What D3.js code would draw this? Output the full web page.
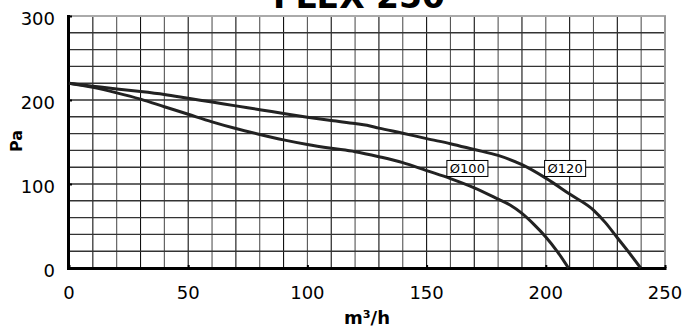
<!DOCTYPE html>
<html><head><meta charset="utf-8">
<script src="https://cdn.jsdelivr.net/npm/d3@7"></script>
<style>body{margin:0;background:#fff}svg{display:block}</style>
</head><body>
<svg id="c" width="682" height="328"></svg>
<script>
const title = "FLEX 250";
const xLabel = "m³/h";
const yLabel = "Pa";
const xTicks = [0, 50, 100, 150, 200, 250];
const yTicks = [0, 100, 200, 300];
const seriesNames = ["Ø100", "Ø120"];
const d100 = [[0,220],[10,215],[20,208.5],[30,201],[40,192],[50,183],[60,174],[70,166],[80,159],[90,152.5],[100,147],[110,142.5],[120,138.5],[130,132.5],[140,125.5],[150,116],[160,106.5],[170,95.5],[180,82],[185,75],[190,65],[195,52],[200,37],[205,19],[209.5,0]];
const d120 = [[0,220],[10,216.5],[20,213],[30,210],[40,206.5],[50,202],[60,197.5],[70,193],[80,188.5],[90,184],[100,179.5],[110,175.5],[120,172],[125,170],[130,166.5],[140,160.5],[150,154],[160,148],[170,141],[180,134],[190,123],[200,107],[210,88],[220,69],[225,54],[230,36],[235,18],[239.8,0]];
const labelAnchors = [[158.5,128],[199.5,128]];

const svg = d3.select("#c");
const m = {l:69, r:665, t:16, b:268};
const x = d3.scaleLinear().domain([0,250]).range([m.l, m.r]);
const y = d3.scaleLinear().domain([0,300]).range([m.b, m.t]);

// grid
const g = svg.append("g");
g.selectAll(".vx").data(d3.range(10, 250, 10)).join("line")
  .attr("x1", d=>x(d)).attr("x2", d=>x(d)).attr("y1", y(0)).attr("y2", y(300))
  .attr("stroke", (d,i)=> i%2 ? "#555" : "#111").attr("stroke-width", 1.1);
g.selectAll(".hy").data(d3.range(20, 300, 20)).join("line")
  .attr("y1", d=>y(d)).attr("y2", d=>y(d)).attr("x1", x(0)).attr("x2", x(250))
  .attr("stroke", "#333").attr("stroke-width", 1.4);
// top and right borders
g.append("line").attr("x1", x(0)).attr("x2", x(250)+1).attr("y1", y(300)).attr("y2", y(300)).attr("stroke", "#aaa").attr("stroke-width", 2);
g.append("line").attr("x1", x(250)).attr("x2", x(250)).attr("y1", y(300)).attr("y2", y(0)).attr("stroke", "#999").attr("stroke-width", 2);

// axes
const xa = svg.append("g").attr("transform", `translate(0,${y(0)})`)
  .call(d3.axisTop(x).tickValues(xTicks).tickSize(3).tickFormat(""));
xa.select(".domain").remove();
xa.selectAll("line").attr("stroke", "#000").attr("stroke-width", 2);
const ya = svg.append("g").attr("transform", `translate(${x(0)},0)`)
  .call(d3.axisRight(y).tickValues(yTicks).tickSize(3).tickFormat(""));
ya.select(".domain").remove();
ya.selectAll("line").attr("stroke", "#000").attr("stroke-width", 2);
svg.append("line").attr("x1", x(0)-1.5).attr("x2", x(250)+1.5).attr("y1", y(0)+0.5).attr("y2", y(0)+0.5).attr("stroke", "#000").attr("stroke-width", 3);
svg.append("line").attr("x1", x(0)-0.5).attr("x2", x(0)-0.5).attr("y1", y(300)-1).attr("y2", y(0)+2).attr("stroke", "#000").attr("stroke-width", 3);

// tick labels
svg.selectAll(".xl").data(xTicks).join("text")
  .attr("x", d=>x(d)).attr("y", 299).attr("text-anchor", "middle")
  .attr("font-family", "DejaVu Sans").attr("font-size", 18).attr("fill", "#000").text(d=>d);
svg.selectAll(".yl").data(yTicks).join("text")
  .attr("x", 55).attr("y", d=>y(d)+3).attr("dy", "0.36em").attr("text-anchor", "end")
  .attr("font-family", "DejaVu Sans").attr("font-size", 18).attr("fill", "#000").text(d=>d);

// axis titles
svg.append("text").attr("x", 367).attr("y", 324).attr("text-anchor", "middle")
  .attr("font-family", "DejaVu Sans").attr("font-weight", "bold").attr("font-size", 18).text(xLabel);
svg.append("text").attr("transform", "translate(22,141) rotate(-90)").attr("text-anchor", "middle")
  .attr("font-family", "DejaVu Sans").attr("font-weight", "bold").attr("font-size", 16).text(yLabel);
svg.append("text").attr("x", 359).attr("y", 8).attr("text-anchor", "middle")
  .attr("font-family", "DejaVu Sans").attr("font-weight", "bold").attr("font-size", 33).text(title);

// curves
const line = d3.line().x(d=>x(d[0])).y(d=>y(d[1])).curve(d3.curveMonotoneX);
[d100, d120].forEach(d => {
  svg.append("path").attr("d", line(d)).attr("fill", "none").attr("stroke", "#222").attr("stroke-width", 3).attr("stroke-linejoin", "round");
});

// labels
seriesNames.forEach((n, i) => {
  const [lx, ly] = labelAnchors[i];
  const gg = svg.append("g").attr("transform", `translate(${x(lx)},${y(ly)})`);
  const t = gg.append("text").attr("x", 3).attr("y", 12.5).attr("font-family", "DejaVu Sans").attr("font-size", 13).text(n);
  const w = t.node().getComputedTextLength();
  gg.insert("rect", "text").attr("x", 0).attr("y", 0).attr("width", w + 6).attr("height", 16)
    .attr("fill", "#fff").attr("stroke", "#000").attr("stroke-width", 1);
});
</script>
</body></html>
